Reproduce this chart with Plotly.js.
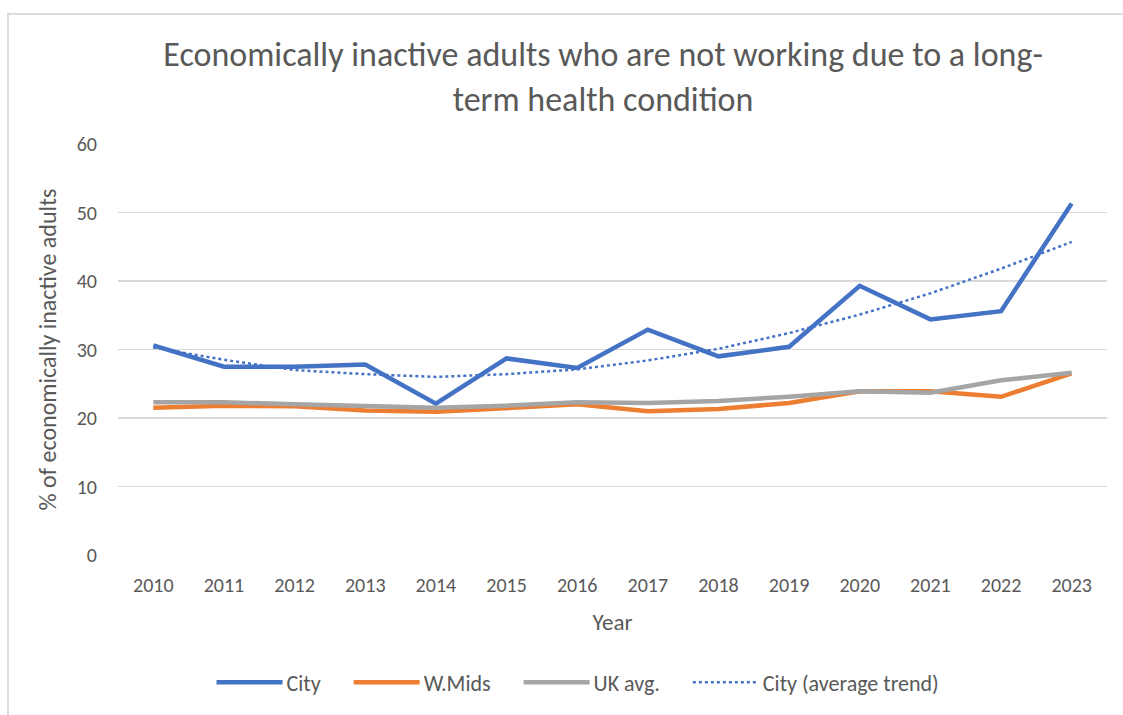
<!DOCTYPE html>
<html>
<head>
<meta charset="utf-8">
<script src="https://cdn.plot.ly/plotly-3.0.1.min.js"></script>
<style>
  html, body { margin: 0; padding: 0; background: #fff; }
  #wrap { position: relative; width: 1123px; height: 715px; overflow: hidden; }
  #frame { position: absolute; left: 7px; top: 13px; width: 1130px; height: 720px;
           border-top: 2px solid #dcdcdc; border-left: 2px solid #dcdcdc; pointer-events: none; }
  #chart { position: absolute; left: 0; top: 0; width: 1123px; height: 715px; }
</style>
</head>
<body>
<div id="wrap">
  <div id="chart"></div>
  <div id="frame"></div>
</div>
<script>
const years = ['2010','2011','2012','2013','2014','2015','2016','2017','2018','2019','2020','2021','2022','2023'];
const city = [30.6, 27.5, 27.5, 27.8, 22.1, 28.7, 27.3, 32.9, 29.0, 30.4, 39.3, 34.4, 35.6, 51.3];
const wMids = [21.5, 21.8, 21.7, 21.1, 20.9, 21.5, 22.0, 21.0, 21.3, 22.2, 23.9, 23.9, 23.1, 26.5];
const ukAvg = [22.3, 22.3, 22.0, 21.7, 21.5, 21.8, 22.3, 22.2, 22.5, 23.1, 23.9, 23.7, 25.5, 26.6];
const cityTrend = [30.3, 28.5, 27.0, 26.4, 26.0, 26.4, 27.1, 28.4, 30.1, 32.4, 35.1, 38.2, 41.8, 45.7];
const seriesNames = ['City', 'W.Mids', 'UK avg.', 'City (average trend)'];

const font = 'Carlito, Calibri, Lato, "Liberation Sans", sans-serif';
const txt = '#595959';

const traces = [
  {x: years, y: city, name: seriesNames[0], type: 'scatter', mode: 'lines',
   line: {color: '#4472C4', width: 4.5}},
  {x: years, y: wMids, name: seriesNames[1], type: 'scatter', mode: 'lines',
   line: {color: '#ED7D31', width: 4.5}},
  {x: years, y: ukAvg, name: seriesNames[2], type: 'scatter', mode: 'lines',
   line: {color: '#A5A5A5', width: 4.5}},
  {x: years, y: cityTrend, name: seriesNames[3], type: 'scatter', mode: 'lines',
   line: {color: '#4472C4', width: 2.5, dash: 'dot'}}
];

const layout = {
  width: 1123, height: 715,
  margin: {l: 118, r: 16, t: 144, b: 157},
  paper_bgcolor: 'rgba(0,0,0,0)', plot_bgcolor: 'rgba(0,0,0,0)',
  font: {family: font, color: txt, size: 20},
  title: {text: 'Economically inactive adults who are not working due to a long-<br>term health condition',
          font: {family: font, size: 34, color: txt}, x: 0.537, xanchor: 'center', y: 0.907, yanchor: 'top'},
  xaxis: {type: 'category', showgrid: false, zeroline: false, showline: false, ticks: '',
          tickfont: {size: 20, color: txt}, ticklabelstandoff: 16,
          title: {text: 'Year', font: {size: 23, color: txt}, standoff: 17},
          automargin: false, range: [-0.5, 13.5]},
  yaxis: {range: [0, 60], dtick: 10, showgrid: true, gridcolor: '#d9d9d9', gridwidth: 1.3,
          zeroline: false, showline: false, ticks: '', tickfont: {size: 20, color: txt},
          ticklabelstandoff: 20,
          title: {text: '% of economically inactive adults', font: {size: 24, color: txt}, standoff: 13},
          automargin: false},
  showlegend: true,
  legend: {orientation: 'h', x: 0.4535, xanchor: 'center', y: -0.31, yanchor: 'middle',
           font: {size: 22, color: txt}, traceorder: 'normal', itemwidth: 88},
};

Plotly.newPlot('chart', traces, layout, {displayModeBar: false, staticPlot: true}).then(function (gd) {
  gd.querySelectorAll('.legend .legendlines path').forEach(function (p) {
    p.setAttribute('d', 'M28,0h66');
  });
});
</script>
</body>
</html>
